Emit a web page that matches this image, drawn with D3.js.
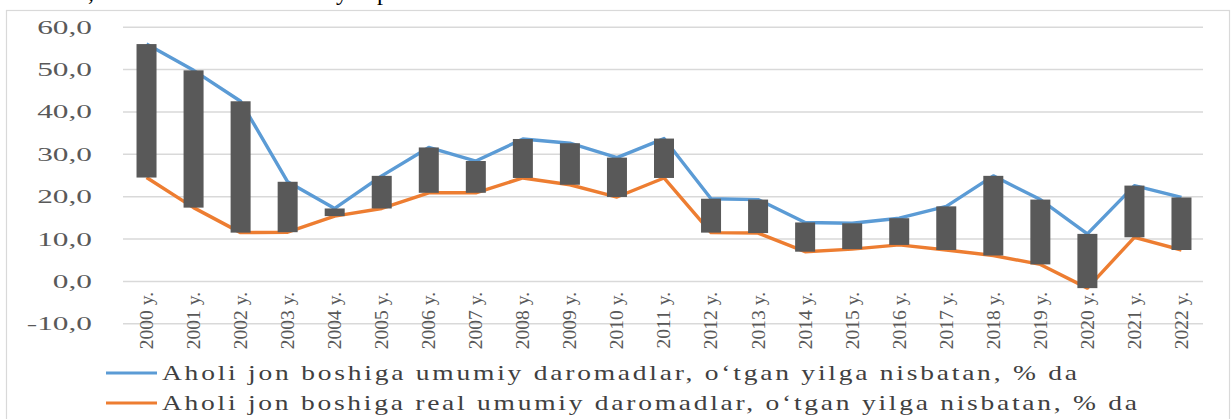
<!DOCTYPE html>
<html>
<head>
<meta charset="utf-8">
<script src="https://cdn.jsdelivr.net/npm/d3@7/dist/d3.min.js"></script>
<style>
  body { margin: 0; background: #fff; }
  svg { display: block; }
  text { font-family: "Liberation Serif", "Times New Roman", serif; }
</style>
</head>
<body>
<svg id="chart" width="1231" height="419"></svg>
<script>
// data
const years = ["2000 y.", "2001 y.", "2002 y.", "2003 y.", "2004 y.", "2005 y.", "2006 y.", "2007 y.",
  "2008 y.", "2009 y.", "2010 y.", "2011 y.", "2012 y.", "2013 y.", "2014 y.", "2015 y.",
  "2016 y.", "2017 y.", "2018 y.", "2019 y.", "2020 y.", "2021 y.", "2022 y."];
const nominal = [55.9, 49.7, 42.4, 23.4, 17.1, 24.8, 31.5, 28.3, 33.5, 32.5, 29.1, 33.6,
  19.4, 19.2, 13.8, 13.6, 14.8, 17.6, 24.8, 19.2, 11.1, 22.5, 19.7];
const real = [24.4, 17.3, 11.4, 11.5, 15.3, 17.1, 20.8, 20.8, 24.3, 22.7, 19.8, 24.3,
  11.4, 11.3, 6.9, 7.5, 8.5, 7.3, 6.0, 3.9, -1.7, 10.3, 7.3];
const yTicks = [-10, 0, 10, 20, 30, 40, 50, 60];
const seriesNames = [
  "Aholi jon boshiga umumiy daromadlar, o‘tgan yilga nisbatan, % da",
  "Aholi jon boshiga real umumiy daromadlar, o‘tgan yilga nisbatan, % da"
];
const colors = ["#5b9bd5", "#ed7d31"];

const svg = d3.select("#chart");
const plotLeft = 123, plotRight = 1205, plotTop = 26.7, plotBottom = 323.3;

// bits of the document line cut off above the chart
svg.append("text").attr("y", 0).attr("font-size", 24).attr("fill", "#000")
  .selectAll("tspan").data([[88, ","], [336, "y"], [377, "p"]]).enter()
  .append("tspan").attr("x", d => d[0]).text(d => d[1]);

// chart frame
svg.append("rect").attr("x", 6.5).attr("y", 10.5).attr("width", 1223).attr("height", 430)
  .attr("fill", "none").attr("stroke", "#d9d9d9").attr("stroke-width", 1.2);

const x = d3.scaleBand().domain(years).range([plotLeft, plotRight]).padding(0);
const y = d3.scaleLinear().domain([-10, 60]).range([plotBottom, plotTop]);
const cx = d => x(d) + x.bandwidth() / 2;

// gridlines + y labels
const yAxis = svg.append("g").attr("transform", `translate(${plotLeft},0)`)
  .call(d3.axisLeft(y).tickValues(yTicks).tickSize(-(plotRight - plotLeft - 2)).tickPadding(0)
    .tickFormat(d => d.toFixed(1).replace(".", ",")));
yAxis.select(".domain").remove();
yAxis.selectAll("line").attr("stroke", "#d9d9d9").attr("stroke-width", 1.5);
yAxis.selectAll("text")
  .attr("x", 0).attr("dy", "0.34em")
  .attr("transform", "translate(-31,0) scale(1.65,1)")
  .attr("font-size", 19).attr("fill", "#595959");

// category labels next to the zero line
const xAxis = svg.append("g").attr("transform", `translate(0,${y(0)})`)
  .call(d3.axisBottom(x).tickSize(0).tickPadding(0));
xAxis.select(".domain").remove();
xAxis.selectAll("text")
  .attr("y", 0).attr("x", -11).attr("dy", "0.33em")
  .attr("transform", "rotate(-90)")
  .attr("text-anchor", "end")
  .attr("font-size", 19.5).attr("fill", "#595959");

// the two series
[nominal, real].forEach((vals, i) => {
  svg.append("path")
    .datum(vals)
    .attr("fill", "none")
    .attr("stroke", colors[i])
    .attr("stroke-width", 3.4)
    .attr("stroke-linejoin", "round")
    .attr("d", d3.line().x((d, j) => cx(years[j])).y(d => y(d)));
});

// up/down bars between the series
svg.selectAll("rect.updown")
  .data(years)
  .enter()
  .append("rect")
  .attr("class", "updown")
  .attr("x", d => cx(d) - 10)
  .attr("y", (d, i) => y(Math.max(nominal[i], real[i])))
  .attr("width", 20)
  .attr("height", (d, i) => Math.abs(y(nominal[i]) - y(real[i])))
  .attr("fill", "#595959");

// legend (slightly wide glyphs, spread out to the original line length)
const legendW = [915, 975];
const sx = 1.25;
seriesNames.forEach((name, i) => {
  const ly = 373 + i * 30;
  svg.append("line").attr("x1", 106).attr("x2", 157).attr("y1", ly).attr("y2", ly)
    .attr("stroke", colors[i]).attr("stroke-width", 3.2);
  svg.append("text")
    .attr("transform", `translate(162,${ly + 7}) scale(${sx},1)`)
    .attr("font-size", 22).attr("fill", "#404040")
    .attr("textLength", legendW[i] / sx).attr("lengthAdjust", "spacing")
    .text(name);
});
</script>
</body>
</html>
